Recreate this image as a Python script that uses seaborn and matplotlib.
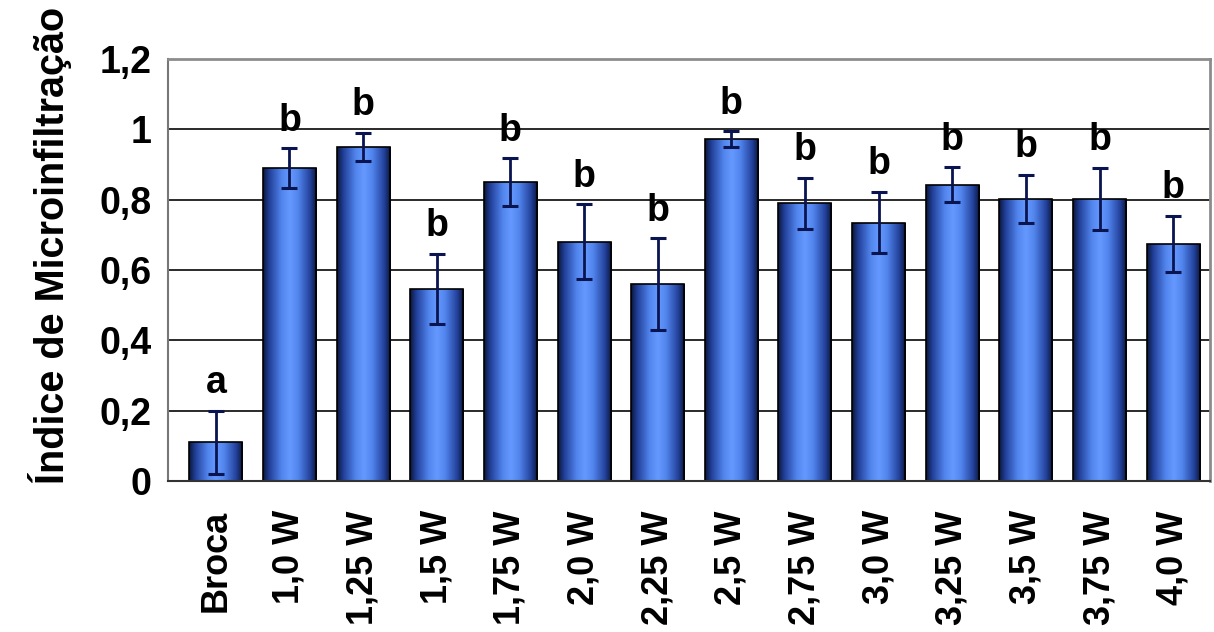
import numpy as np
import matplotlib
matplotlib.use("Agg")
import matplotlib.pyplot as plt
from matplotlib.colors import LinearSegmentedColormap
import pandas as pd
import seaborn as sns

# Microleakage index per preparation group (mean ± standard deviation)
groups = ["Broca", "1,0 W", "1,25 W", "1,5 W", "1,75 W", "2,0 W", "2,25 W",
          "2,5 W", "2,75 W", "3,0 W", "3,25 W", "3,5 W", "3,75 W", "4,0 W"]
means = [0.11, 0.89, 0.95, 0.546, 0.85, 0.68, 0.56,
         0.972, 0.79, 0.735, 0.842, 0.803, 0.803, 0.674]
errors = [0.09, 0.057, 0.04, 0.10, 0.068, 0.107, 0.13,
          0.023, 0.073, 0.088, 0.05, 0.068, 0.088, 0.08]
letters = ["a", "b", "b", "b", "b", "b", "b",
           "b", "b", "b", "b", "b", "b", "b"]
yticks = [0, 0.2, 0.4, 0.6, 0.8, 1.0, 1.2]
ytick_labels = ["0", "0,2", "0,4", "0,6", "0,8", "1", "1,2"]
ylabel = "Índice de Microinfiltração"

sns.set_theme(style="white")
plt.rcParams["font.family"] = ["Liberation Sans", "DejaVu Sans"]
plt.rcParams["font.weight"] = "bold"
plt.rcParams["text.color"] = "black"
plt.rcParams["xtick.labelcolor"] = "black"
plt.rcParams["ytick.labelcolor"] = "black"

W, H = 1214, 632
fig = plt.figure(figsize=(W / 100, H / 100), dpi=100)
ax = fig.add_axes([168 / W, 1 - 481 / H, (1210 - 168) / W, (481 - 59) / H])

df = pd.DataFrame({"grupo": groups, "indice": means})
sns.barplot(data=df, x="grupo", y="indice", order=groups, color="#5b8ff0",
            width=0.72, edgecolor="black", linewidth=1.2, errorbar=None, ax=ax)

# cylinder-like shading across each bar
shade = LinearSegmentedColormap.from_list(
    "cyl", [(0.0, "#0b1638"), (0.12, "#22409a"), (0.35, "#5286ee"),
            (0.5, "#6699ff"), (0.65, "#5286ee"), (0.88, "#22409a"),
            (1.0, "#0a1430")])
grad = np.linspace(0, 1, 256).reshape(1, -1)
for bar in ax.patches:
    x0, w, h = bar.get_x(), bar.get_width(), bar.get_height()
    im = ax.imshow(grad, cmap=shade, aspect="auto", extent=[x0, x0 + w, 0, h],
                   zorder=2, interpolation="bicubic")
    im.set_clip_path(bar)
    bar.set_facecolor("none")
    bar.set_zorder(2.5)

ax.errorbar(range(len(groups)), means, yerr=errors, fmt="none",
            ecolor="#0a1450", elinewidth=2, capsize=6, capthick=2.2, zorder=3)

for i, (m, e, lab) in enumerate(zip(means, errors, letters)):
    ax.annotate(lab, (i, m + e), xytext=(0, 12.5), textcoords="offset points",
                ha="center", va="baseline", fontsize=27, fontweight="bold",
                color="black")

ax.set_xlim(-0.5 - 11 / 73.6, len(groups) - 0.5)
ax.set_ylim(0, 1.2)
ax.set_yticks(yticks, ytick_labels)
ax.tick_params(axis="y", length=0, pad=12, labelsize=27)
for t in ax.get_yticklabels():
    t.set_fontweight("bold")

ax.set_xticks(range(len(groups)), groups, rotation=90)
ax.tick_params(axis="x", which="major", length=0, pad=21, labelsize=26)
for t in ax.get_xticklabels():
    t.set_fontweight("bold")
ax.set_xticks(np.arange(-0.5, len(groups), 1.0), minor=True)
ax.tick_params(axis="x", which="minor", length=10, width=1.5,
               color="#666666", direction="out")

ax.yaxis.grid(True, color="#2a2a2a", linewidth=1.4)
ax.set_axisbelow(True)
ax.set_xlabel("")
ax.set_ylabel("")
for side in ["top", "right"]:
    ax.spines[side].set_color("#8c8c8c")
    ax.spines[side].set_linewidth(2)
ax.spines["left"].set_color("#777777")
ax.spines["left"].set_linewidth(1.5)
ax.spines["bottom"].set_color("#333333")
ax.spines["bottom"].set_linewidth(1.5)

fig.text(50 / W, 1 - 245 / H, ylabel, rotation=90, ha="center", va="center",
         fontsize=28.5, fontweight="bold", color="black")

fig.savefig("out.png", dpi=100, facecolor="white")
